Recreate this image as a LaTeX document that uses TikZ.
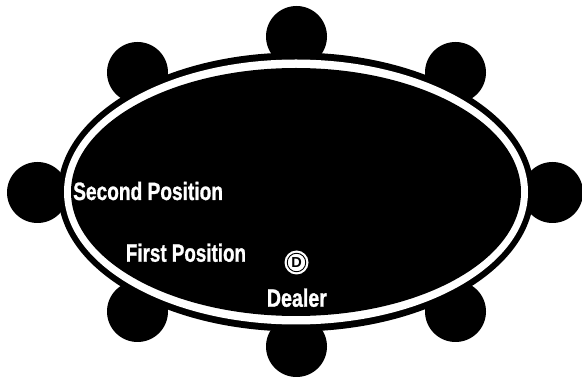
\documentclass[tikz,border=0pt]{standalone}
\usepackage{fontspec}
\usetikzlibrary{shapes.geometric}
\setmainfont{Liberation Sans}
\newfontfamily\heavy{Liberation Sans}[BoldFeatures={FakeBold=1.2}]
\begin{document}
\begin{tikzpicture}[x=1pt,y=-1pt,
  seat/.style={circle,fill=black,minimum size=61pt,inner sep=0pt,outer sep=0pt},
  rim/.style={ellipse,inner sep=0pt,outer sep=0pt},
  lbl/.style={text=white,font=\heavy\fontsize{25}{25}\selectfont\bfseries,inner sep=0pt,anchor=base west}]
\useasboundingbox[fill=white] (0,0) rectangle (582,379);
% seats
\node[seat] (s1) at (296.5,36.5) {};
\node[seat] (s2) at (455.5,72.5) {};
\node[seat] (s3) at (552.5,192.5) {};
\node[seat] (s4) at (455.5,311.5) {};
\node[seat] (s5) at (296.5,346.5) {};
\node[seat] (s6) at (137.5,311.5) {};
\node[seat] (s7) at (37.5,192.5) {};
\node[seat] (s8) at (137.5,72.5) {};
% table
\node[rim,fill=black,minimum width=476pt,minimum height=279pt] (outer) at (296,192) {};
\node[rim,fill=white,minimum width=464pt,minimum height=265pt] (ring) at (296,192) {};
\node[rim,fill=black,minimum width=450pt,minimum height=248pt] (table) at (296,192) {};
% labels
\node[lbl] (second) at (73,200) {\scalebox{0.765}[1]{Second Position}};
\node[lbl] (first) at (125.7,261.7) {\scalebox{0.752}[1]{First Position}};
\node[lbl] (dealer) at (266.7,306.7) {\scalebox{0.785}[1]{Dealer}};
% dealer button
\node[circle,fill=white,minimum size=24pt,inner sep=0pt] (btn) at (296.5,262.5) {};
\node[circle,draw=black,line width=0.9pt,minimum size=18.5pt,inner sep=0pt,
      font=\fontsize{14.5}{14.5}\selectfont\bfseries] (dbtn) at (btn.center) {D};
\end{tikzpicture}
\end{document}
